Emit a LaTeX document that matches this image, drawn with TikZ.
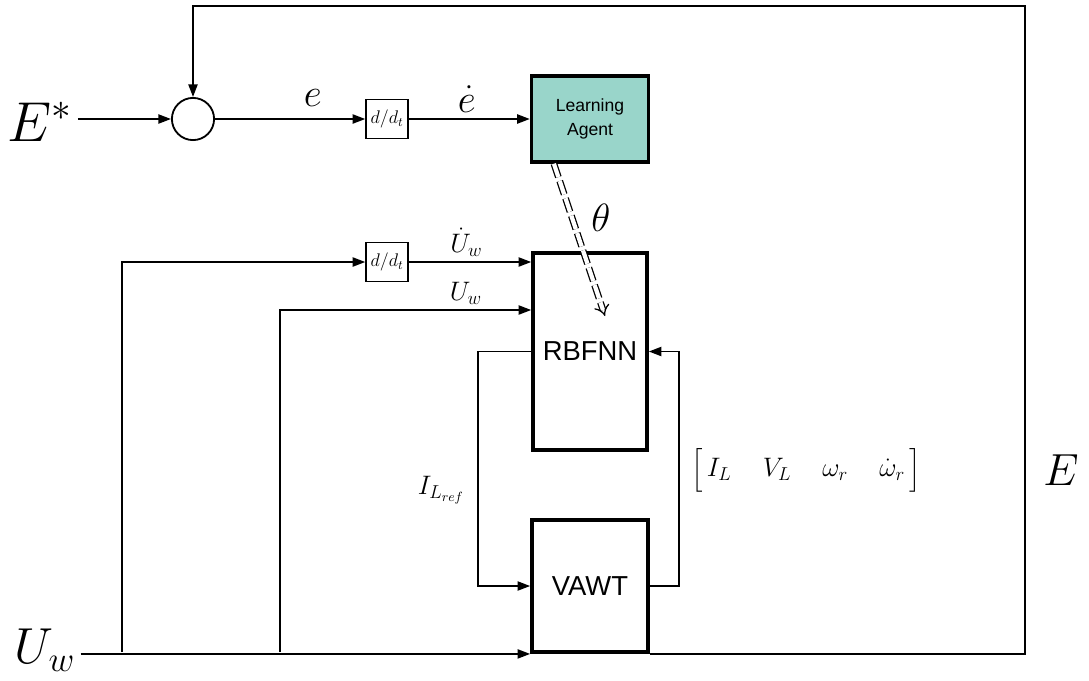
\RequirePackage{fix-cm}
\documentclass[tikz,border=0pt]{standalone}
\usepackage{amsmath}
\usepackage{fontspec}
\setsansfont{Liberation Sans}
\usetikzlibrary{arrows.meta,positioning,calc}
\definecolor{agentfill}{RGB}{153,213,202}
\newcommand{\fsz}[1]{\fontsize{#1}{#1}\selectfont}

\begin{document}
\begin{tikzpicture}[x=0.025cm,y=-0.025cm,>={Triangle[length=9pt,width=6.5pt]},line width=1.3pt]
    \tikzset{
        bigbox/.style={draw,line width=2.6pt,inner sep=0pt,font=\sffamily\fsz{19.5pt}},
        ddtbox/.style={draw,line width=0.9pt,minimum width=30pt,minimum height=28pt,inner sep=0pt,font=\fsz{13pt}},
        sumc/.style={draw,circle,minimum size=30pt,inner sep=0pt},
        lbl/.style={font=\fsz{19pt}}
    }
    \useasboundingbox (0,0) rectangle (1089,680);

    \node (Estar) at (40,122) {\fsz{40pt}$E^{*}$};
    \node (sum) [sumc] at (193,119) {};
    \node (ddt1) [ddtbox] at (387,119) {$d/d_t$};
    \node (agent) [bigbox,fill=agentfill,minimum width=83pt,minimum height=61pt,align=center,font=\sffamily\fsz{12.5pt}] at (590,119) {Learning\\[4pt]Agent};
    \node (rbf) [bigbox,minimum width=81pt,minimum height=140pt] at (590,351.5) {RBFNN};
    \node (vawt) [bigbox,minimum width=82.5pt,minimum height=94pt] at (590,586) {VAWT};
    \node (ddt2) [ddtbox] at (387,262) {$d/d_t$};
    \node (Uw) at (45,650) {\fsz{36pt}$U_w$};
    \node (E) at (1061,470) {\fsz{32pt}$E$};
    \node (theta) at (601,218) {\fsz{28pt}$\theta$};
    \node (vec) [lbl] at (806,470) {$\Bigl[\,I_L\quad\, V_L\quad\, \omega_r\quad\, \dot{\omega}_r\,\Bigr]$};
    \node (iref) [lbl] at (441,490) {$I_{L_{ref}}$};

    \coordinate (loopR) at (1025,6);
    \coordinate (br1) at (122,652);
    \coordinate (br2) at (280,652);
    \coordinate (thetaend) at (605,316);

    \draw[->] (Estar.east |- sum) -- (sum);
    \draw[->] (sum) -- node[pos=0.65,above=5pt,font=\fsz{28pt}] {$e$} (ddt1);
    \draw[->] (ddt1) -- node[pos=0.48,above=1pt,font=\fsz{28pt}] {$\dot{e}$} (agent);
    \draw[->] (vawt.south east) -| (loopR) -| (sum.north);

    \draw[->] (Uw.east |- vawt.south west) -- (vawt.south west);
    \draw[->] (br1) |- (ddt2);
    \draw[->] (ddt2) -- node[above,lbl,pos=0.47] {$\dot{U}_w$} (ddt2 -| rbf.west);
    \draw[->] (br2) |- node[pos=0.87,above,lbl] {$U_w$} (rbf.west |- 0,310);

    \draw[->] (rbf.west) -- ++(-53,0) |- (vawt.west);
    \draw[->] (vawt.east) -- ++(29,0) |- (rbf.east);

    \draw[double,double distance=3pt,line width=0.9pt,dash pattern=on 10pt off 3pt,-{Implies}] ($(agent.south west)!0.2!(agent.south east)$) -- (thetaend);
\end{tikzpicture}
\end{document}
